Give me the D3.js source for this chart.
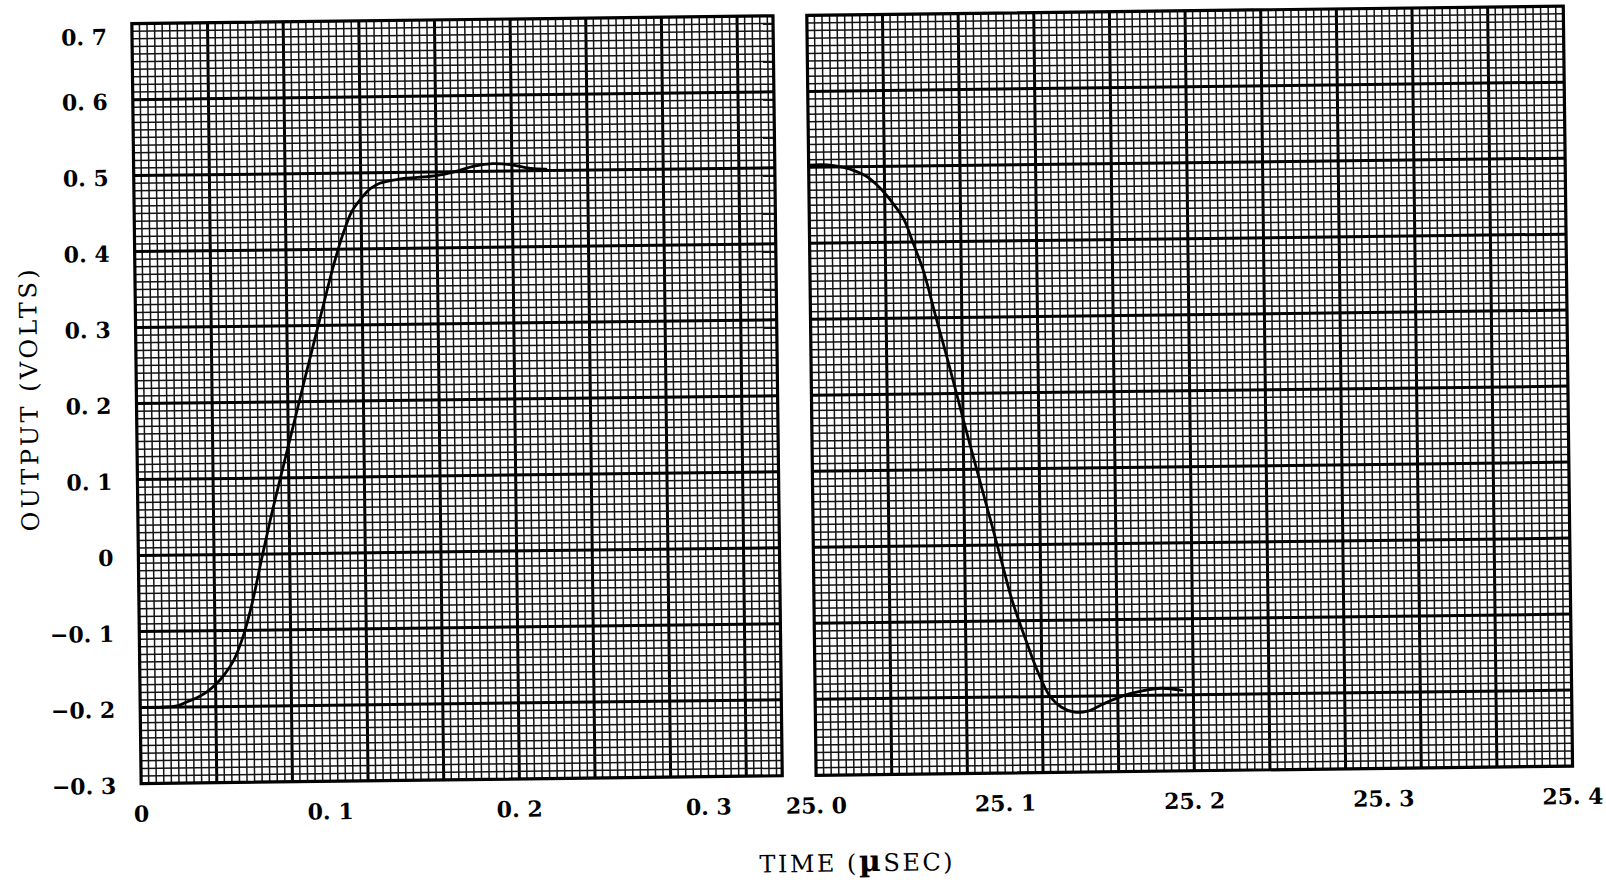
<!DOCTYPE html>
<html>
<head>
<meta charset="utf-8">
<script src="https://cdn.jsdelivr.net/npm/d3@7"></script>
<style>
  html, body { margin: 0; padding: 0; background: #fff; }
  svg { display: block; }
</style>
</head>
<body>
<svg id="chart" width="1606" height="883"></svg>
<script>
// Leading edge of the output pulse (µs, volts)
const riseTime  = [0, 0.01, 0.02, 0.025, 0.03, 0.035, 0.04, 0.045, 0.05, 0.055, 0.06, 0.065, 0.07, 0.075,
                   0.08, 0.085, 0.09, 0.095, 0.1, 0.105, 0.11, 0.115, 0.12, 0.125, 0.13, 0.14, 0.15, 0.16,
                   0.17, 0.18, 0.19, 0.2, 0.21, 0.218];
const riseVolts = [-0.2, -0.2, -0.198, -0.193, -0.188, -0.181, -0.171, -0.157, -0.138, -0.107, -0.063, -0.008,
                   0.045, 0.094, 0.142, 0.19, 0.238, 0.285, 0.332, 0.378, 0.418, 0.449, 0.466, 0.479, 0.486,
                   0.491, 0.493, 0.495, 0.5, 0.507, 0.51, 0.508, 0.503, 0.502];

// Trailing edge of the output pulse (µs, volts)
const fallTime  = [25.0, 25.01, 25.019, 25.025, 25.03, 25.035, 25.04, 25.045, 25.05, 25.055, 25.06, 25.066,
                   25.073, 25.08, 25.085, 25.09, 25.095, 25.1, 25.105, 25.112, 25.118, 25.124, 25.13, 25.137,
                   25.144, 25.152, 25.163, 25.173, 25.183, 25.194];
const fallVolts = [0.503, 0.503, 0.499, 0.494, 0.488, 0.478, 0.465, 0.449, 0.43, 0.397, 0.362, 0.304,
                   0.237, 0.167, 0.118, 0.07, 0.022, -0.027, -0.075, -0.127, -0.168, -0.199, -0.214, -0.221,
                   -0.22, -0.211, -0.2, -0.194, -0.191, -0.194];

// Axis ticks and titles
const voltTicks = [0.7, 0.6, 0.5, 0.4, 0.3, 0.2, 0.1, 0, -0.1, -0.2, -0.3];
const riseTicks = [0, 0.1, 0.2, 0.3];
const fallTicks = [25.0, 25.1, 25.2, 25.3, 25.4];
const yTitle = "OUTPUT (VOLTS)";
const xTitleParts = ["TIME (", "\u00B5", "SEC)"];

// Graph-paper rulings: one heavy line every 10 light ones
const voltStep = 0.01;
const timeStep = 0.004;

// ---------------------------------------------------------------------------
const svg = d3.select("#chart");
const serif = "'DejaVu Serif', 'Liberation Serif', serif";

// the sheet sits very slightly askew on the page
const sheet = svg.append("g").attr("transform", "rotate(-0.7, 800, 440)");

const plotTop = 15.5, plotBottom = 775.5;
const pxPerUs = 1891.25;

const y = d3.scaleLinear().domain([-0.3, 0.7]).range([plotBottom, plotTop]);

const panels = [
  { domain: [0, 0.339], left: 137, ticks: riseTicks, time: riseTime, volts: riseVolts },
  { domain: [25.0, 25.4], left: 812, ticks: fallTicks, time: fallTime, volts: fallVolts }
];
panels.forEach(p => {
  p.x = d3.scaleLinear().domain(p.domain)
    .range([p.left, p.left + (p.domain[1] - p.domain[0]) * pxPerUs]);
});

const fmt = v => v === 0 ? "0" : d3.format(".1f")(v).replace(".", ". ");

const minorColor = "#141414", minorWidth = 1.5;
const majorColor = "#000", majorWidth = 3;

panels.forEach(p => {
  const g = sheet.append("g");
  const [x0, x1] = p.x.range();

  // vertical rulings
  const nT = Math.floor((p.domain[1] - p.domain[0]) / timeStep + 1e-6);
  const tIdx = d3.range(1, nT + 1).filter(i => p.x(p.domain[0] + i * timeStep) < x1 - 1);
  g.append("g").selectAll("line").data(tIdx).join("line")
    .attr("x1", i => p.x(p.domain[0] + i * timeStep))
    .attr("x2", i => p.x(p.domain[0] + i * timeStep))
    .attr("y1", plotTop).attr("y2", plotBottom)
    .attr("stroke", i => i % 10 === 0 ? majorColor : minorColor)
    .attr("stroke-width", i => i % 10 === 0 ? majorWidth : minorWidth);

  // horizontal rulings
  const vIdx = d3.range(1, 100);
  g.append("g").selectAll("line").data(vIdx).join("line")
    .attr("x1", x0).attr("x2", x1)
    .attr("y1", i => y(-0.3 + i * voltStep))
    .attr("y2", i => y(-0.3 + i * voltStep))
    .attr("stroke", i => i % 10 === 0 ? majorColor : minorColor)
    .attr("stroke-width", i => i % 10 === 0 ? majorWidth : minorWidth);

  // border
  g.append("rect")
    .attr("x", x0).attr("y", plotTop)
    .attr("width", x1 - x0).attr("height", plotBottom - plotTop)
    .attr("fill", "none").attr("stroke", "#000").attr("stroke-width", 3.2);

  // trace
  const pts = p.time.map((t, i) => [t, p.volts[i]]);
  g.append("path")
    .datum(pts)
    .attr("fill", "none")
    .attr("stroke", "#000")
    .attr("stroke-width", 2.8)
    .attr("stroke-linejoin", "round")
    .attr("stroke-linecap", "round")
    .attr("d", d3.line().x(d => p.x(d[0])).y(d => y(d[1])).curve(d3.curveCatmullRom.alpha(0.5)));

  // time tick labels
  g.append("g").selectAll("text").data(p.ticks).join("text")
    .attr("x", d => p.x(d))
    .attr("y", plotBottom + 38)
    .attr("text-anchor", "middle")
    .attr("font-family", serif)
    .attr("font-weight", "bold")
    .attr("font-size", 22)
    .attr("fill", "#000")
    .text(fmt);
});

// voltage tick labels (kept below the top edge of the sheet)
sheet.append("g").selectAll("text").data(voltTicks).join("text")
  .attr("x", 112)
  .attr("y", d => Math.max(y(d) + 10, plotTop + 21))
  .attr("text-anchor", "end")
  .attr("font-family", serif)
  .attr("font-weight", "bold")
  .attr("font-size", 22)
  .attr("fill", "#000")
  .text(fmt);

// axis titles
sheet.append("text")
  .attr("transform", "translate(38, 391) rotate(-90)")
  .attr("text-anchor", "middle")
  .attr("font-family", serif)
  .attr("font-size", 24)
  .attr("textLength", 262)
  .attr("lengthAdjust", "spacing")
  .attr("fill", "#000")
  .text(yTitle);

const xt = sheet.append("text")
  .attr("x", 852).attr("y", 872)
  .attr("text-anchor", "middle")
  .attr("font-family", serif)
  .attr("font-size", 24)
  .attr("letter-spacing", 2.5)
  .attr("fill", "#000");
xt.append("tspan").text(xTitleParts[0]);
xt.append("tspan").attr("font-weight", "bold").attr("font-size", 30).text(xTitleParts[1]);
xt.append("tspan").text(xTitleParts[2]);
</script>
</body>
</html>
